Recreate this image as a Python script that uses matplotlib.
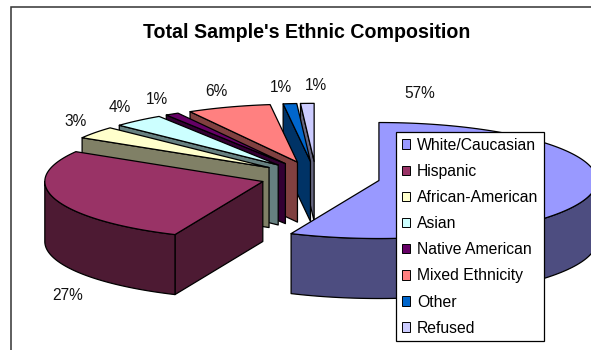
import numpy as np
import matplotlib
matplotlib.use('Agg')
import matplotlib.pyplot as plt
from matplotlib.patches import Polygon, Patch

plt.rcParams['font.family'] = ['Liberation Sans', 'DejaVu Sans']

categories = ['White/Caucasian', 'Hispanic', 'African-American', 'Asian',
              'Native American', 'Mixed Ethnicity', 'Other', 'Refused']
values = [56.6, 27.0, 3.4, 3.8, 1.0, 6.2, 1.0, 1.0]
top_colors = ['#9999FF', '#993366', '#FFFFCC', '#CCFFFF',
              '#660066', '#FF8080', '#0066CC', '#CCCCFF']
side_colors = ['#4D4D80', '#4D1A33', '#808066', '#668080',
               '#330033', '#804040', '#003366', '#666680']
explode = [0.295, 0.256, 0.27, 0.27, 0.27, 0.27, 0.27, 0.27]
label_pos = [(420, 94), (68, 295), (76, 122), (120, 107),
             (157, 100), (216, 92), (281, 87), (316, 85)]

# pie geometry in pixels, the axes below run 1:1 with the image
cx, cy = 316, 177
rx, ry = 218, 58
depth = 60

fig = plt.figure(figsize=(5.91, 3.5), dpi=100)
ax = fig.add_axes([0, 0, 1, 1])
ax.set_xlim(0, 591)
ax.set_ylim(350, 0)
ax.axis('off')


def rim(ox, oy, deg):
    # angle runs clockwise from 12 o'clock
    t = np.radians(deg)
    return ox + rx * np.sin(t), oy - ry * np.cos(t)


def draw_slice(i, a0, a1):
    mid = np.radians((a0 + a1) / 2)
    ox = cx + explode[i] * rx * np.sin(mid)
    oy = cy - explode[i] * ry * np.cos(mid)
    side = dict(fc=side_colors[i], ec='black', lw=0.9, joinstyle='round')

    # radial walls
    for a, show in ((a0, np.sin(np.radians(a0)) < 0), (a1, np.sin(np.radians(a1)) > 0)):
        if show:
            x, y = rim(ox, oy, a)
            ax.add_patch(Polygon([(ox, oy), (x, y), (x, y + depth), (ox, oy + depth)], **side))

    # outer wall, only the part facing front
    lo, hi = max(a0, 90), min(a1, 270)
    if lo < hi:
        xs, ys = rim(ox, oy, np.linspace(lo, hi, 80))
        pts = list(zip(xs, ys)) + list(zip(xs[::-1], ys[::-1] + depth))
        ax.add_patch(Polygon(pts, **side))

    xs, ys = rim(ox, oy, np.linspace(a0, a1, 160))
    ax.add_patch(Polygon([(ox, oy)] + list(zip(xs, ys)), fc=top_colors[i],
                         ec='black', lw=0.9, joinstyle='round'))


edges = np.concatenate(([0], np.cumsum(values))) * 3.6
# back slices first, going round from the top towards the front left
for i in range(len(values) - 1, -1, -1):
    draw_slice(i, edges[i], edges[i + 1])

for v, (x, y) in zip(values, label_pos):
    ax.text(x, y, f'{round(v)}%', ha='center', va='center', fontsize=11.2, color='#111111')

ax.text(307, 32, "Total Sample's Ethnic Composition", ha='center', va='center',
        fontsize=14.1, fontweight='bold', color='black')

# chart frame, runs off the right and bottom edges
ax.plot([10.5, 10.5, 591], [350, 7, 7], color='#333333', lw=1.1, solid_joinstyle='miter')

handles = [Patch(fc=c, ec='black', lw=0.7) for c in top_colors]
leg = ax.legend(handles, categories, loc='upper left', bbox_to_anchor=(396, 132),
                bbox_transform=ax.transData, fontsize=11.3, frameon=True, fancybox=False,
                framealpha=1, edgecolor='black', borderpad=0.36, labelspacing=0.71,
                handlelength=0.55, handleheight=0.55, handletextpad=0.42, borderaxespad=0)
leg.get_frame().set_linewidth(0.9)

fig.savefig('out.png', dpi=100)
